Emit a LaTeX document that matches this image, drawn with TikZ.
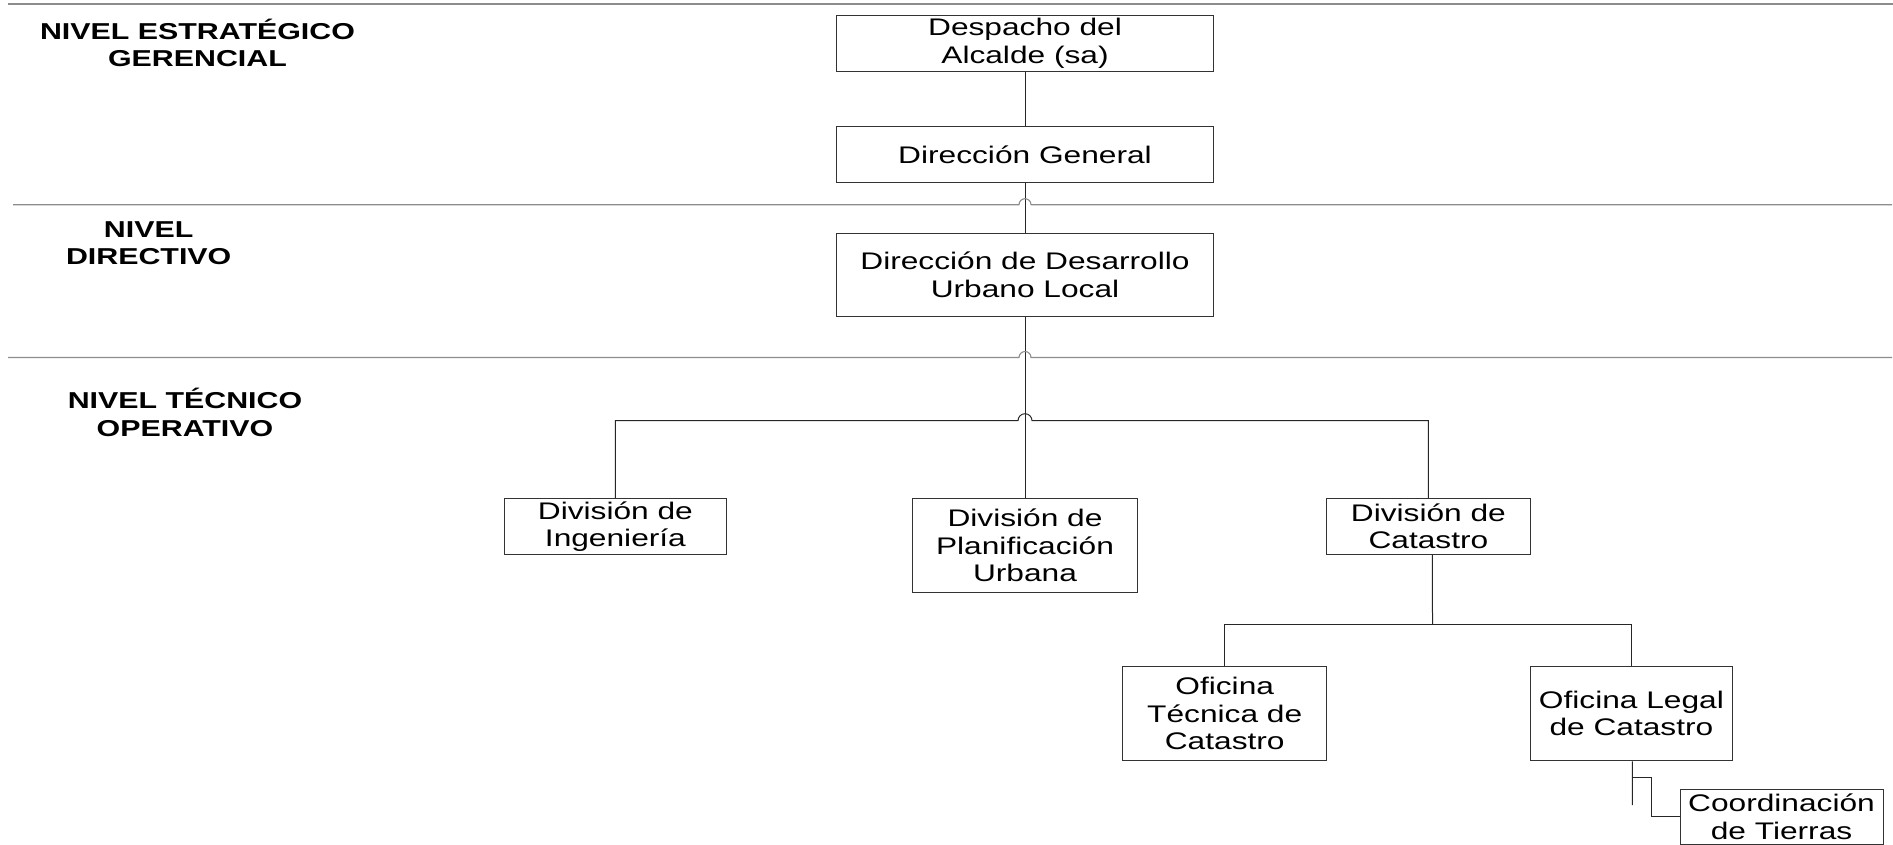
\documentclass[tikz,border=0pt]{standalone}
\usepackage{fontspec}
\setmainfont{Liberation Sans}[FakeStretch=1.32]
\newcommand\orgboxfont{\fontsize{24}{27.5}\selectfont}
\newcommand\orglvlfont{\fontsize{23}{27.3}\selectfont\bfseries}
\tikzset{
  orgbox/.style={draw=black!80, line width=1pt, fill=white, align=center, inner sep=0pt, font=\orgboxfont},
  lvl/.style={align=center, inner sep=0pt, font=\orglvlfont},
  conn/.style={draw=black!85, line width=1pt},
  sep/.style={draw=black!45, line width=1.1pt},
}
\begin{document}
\begin{tikzpicture}[x=1pt,y=-1pt]
\useasboundingbox (0,0) rectangle (1893,844);

% level labels
\node[lvl] (l1) at (197.5,42.6) {NIVEL ESTRATÉGICO\\GERENCIAL};
\node[lvl] (l2) at (148.7,243) {NIVEL\\DIRECTIVO};
\node[lvl] (l3) at (185,412.5) {NIVEL TÉCNICO\\OPERATIVO};

% boxes
\node[orgbox, minimum width=376.6, minimum height=55.6] (desp) at (1025,43.5) {Despacho del\\Alcalde (sa)};
\node[orgbox, minimum width=376.6, minimum height=55.6] (dg) at (1025,154.5) {Dirección General};
\node[orgbox, minimum width=376.6, minimum height=83.4] (ddul) at (1025,275) {Dirección de Desarrollo\\Urbano Local};
\node[orgbox, minimum width=222.7, minimum height=55.6] (ing) at (615.4,526.5) {División de\\Ingeniería};
\node[orgbox, minimum width=225.4, minimum height=94] (plan) at (1025,545.7) {División de\\Planificación\\Urbana};
\node[orgbox, minimum width=203.3, minimum height=55.6] (cat) at (1428.4,526.5) {División de\\Catastro};
\node[orgbox, minimum width=204, minimum height=94] (otc) at (1224.7,713.7) {Oficina\\Técnica de\\Catastro};
\node[orgbox, minimum width=202.7, minimum height=94.7] (olc) at (1631.4,713.4) {Oficina Legal\\de Catastro};
\node[orgbox, minimum width=203, minimum height=55.6] (coord) at (1781.5,816.8) {Coordinación\\de Tierras};

% coordinates for connectors
\coordinate (busL) at (1018,420.7);
\coordinate (busR) at (1032,420.7);
\coordinate (sub) at (1432.5,624.3);
\coordinate (olcend) at (1632.3,805);
\coordinate (br) at (1632.3,777.3);
\coordinate (jog) at (1651.7,816.8);

% vertical spine
\draw[conn] (desp) -- (dg);
\draw[conn] (dg) -- (ddul);
\draw[conn] (ddul) -- (plan);

% bus to divisions (hopping over the spine)
\draw[conn] (ing.north) -- (ing.north |- busL) -- (busL)
  arc[start angle=180, end angle=0, radius=7pt] -- (cat.north |- busR) -- (cat.north);

% Catastro sub-tree
\draw[conn] ([xshift=4pt]cat.south) -- (sub);
\draw[conn] (otc.north) -- (otc.north |- sub) -- (olc.north |- sub) -- (olc.north);

% Oficina Legal to Coordinación
\draw[conn] ([xshift=1pt]olc.south) -- (olcend);
\draw[conn] (br) -| (jog) -- (coord.west);

% level separators
\draw[sep] (8,4) -- (1893,4);
\draw[sep] (13,204.7) -- (1019,204.7) arc[start angle=180, end angle=0, radius=6pt] -- (1892,204.7);
\draw[sep] (8,357.5) -- (1019,357.5) arc[start angle=180, end angle=0, radius=6pt] -- (1892,357.5);
\end{tikzpicture}
\end{document}
